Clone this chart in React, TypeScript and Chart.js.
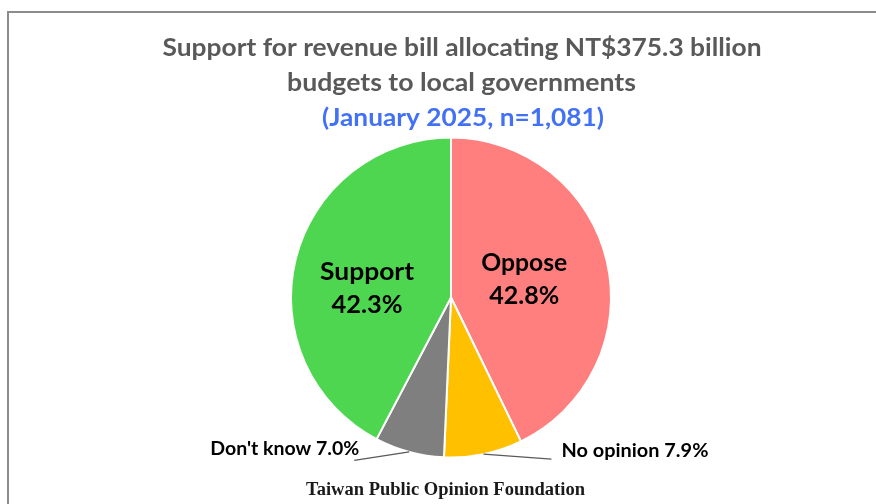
import React, { useEffect, useRef } from "react";
import { Chart, registerables } from "chart.js";

Chart.register(...registerables);

// ---------- data ----------
const categories = ["Oppose", "No opinion", "Don't know", "Support"];
const values = [42.8, 7.9, 7.0, 42.3];
const valueLabels = ["42.8%", "7.9%", "7.0%", "42.3%"];
const sliceColors = ["#FF7F7F", "#FFC000", "#7F7F7F", "#4FD650"];
const titleLines = [
  "Support for revenue bill allocating NT$375.3 billion",
  "budgets to local governments",
];
const subtitleText = "(January 2025, n=1,081)";
const sourceText = "Taiwan Public Opinion Foundation";

// ---------- styles ----------
const SANS = "Lato, 'Open Sans', sans-serif";
const SERIF = "'Liberation Serif', 'DejaVu Serif', serif";

type LabelStyle =
  | { kind: "inside"; fx: number; l1: number; l2: number; w1: number; w2: number }
  | { kind: "outside"; dx: number; dy: number; tx: number; ty: number; w: number; align: CanvasTextAlign };

const labelStyles: LabelStyle[] = [
  { kind: "inside", fx: 0.458, l1: -26.5, l2: 6.5, w1: 86, w2: 70 },
  { kind: "outside", dx: 68, dy: 5, tx: 10, ty: -2, w: 147, align: "left" },
  { kind: "outside", dx: -55, dy: 8.5, tx: 5, ty: -5, w: 149, align: "right" },
  { kind: "inside", fx: -0.525, l1: -17.5, l2: 15.5, w1: 94, w2: 71 },
];

function fitText(
  ctx: CanvasRenderingContext2D,
  text: string,
  x: number,
  y: number,
  width: number,
  align: CanvasTextAlign
) {
  const w = ctx.measureText(text).width;
  const s = w > 0 ? width / w : 1;
  ctx.save();
  ctx.translate(x, y);
  ctx.scale(s, 1);
  ctx.textAlign = align;
  ctx.textBaseline = "alphabetic";
  ctx.fillText(text, 0, 0);
  ctx.restore();
}

const textPlugin = {
  id: "customText",
  afterDraw(chart: any) {
    const ctx: CanvasRenderingContext2D = chart.ctx;
    ctx.save();
    // title
    ctx.fillStyle = "#595959";
    ctx.font = `bold 25px ${SANS}`;
    fitText(ctx, titleLines[0], 462, 56, 599, "center");
    fitText(ctx, titleLines[1], 461.5, 91, 349, "center");
    ctx.fillStyle = "#4271F5";
    fitText(ctx, subtitleText, 463, 126, 282, "center");

    // slice labels
    const meta = chart.getDatasetMeta(0);
    meta.data.forEach((arc: any, i: number) => {
      const p = arc.getProps(["x", "y", "outerRadius", "startAngle", "endAngle"], true);
      const st = labelStyles[i];
      ctx.fillStyle = "#000000";
      if (st.kind === "inside") {
        ctx.font = `bold 24px ${SANS}`;
        const cx = p.x + st.fx * p.outerRadius;
        fitText(ctx, categories[i], cx, p.y + st.l1, st.w1, "center");
        fitText(ctx, valueLabels[i], cx, p.y + st.l2, st.w2, "center");
      } else {
        const mid = (p.startAngle + p.endAngle) / 2;
        const sx = p.x + Math.cos(mid) * p.outerRadius;
        const sy = p.y + Math.sin(mid) * p.outerRadius;
        const ex = sx + st.dx;
        const ey = sy + st.dy;
        ctx.strokeStyle = "#595959";
        ctx.lineWidth = 1.2;
        ctx.beginPath();
        ctx.moveTo(sx, sy);
        ctx.lineTo(ex, ey);
        ctx.stroke();
        ctx.font = `bold 18px ${SANS}`;
        fitText(ctx, `${categories[i]} ${valueLabels[i]}`, ex + st.tx, ey + st.ty, st.w, st.align);
      }
    });

    // source
    ctx.fillStyle = "#1a1a1a";
    ctx.font = `bold 18px ${SERIF}`;
    fitText(ctx, sourceText, 445.5, 495, 279, "center");
    ctx.restore();
  },
};

export default function App() {
  const ref = useRef<HTMLCanvasElement | null>(null);

  useEffect(() => {
    if (!ref.current) return;
    const chart = new Chart(ref.current, {
      type: "pie",
      data: {
        labels: categories,
        datasets: [
          {
            data: values,
            backgroundColor: sliceColors,
            borderColor: "#ffffff",
            borderWidth: 2,
          },
        ],
      },
      options: {
        responsive: false,
        maintainAspectRatio: false,
        animation: false,
        devicePixelRatio: 1,
        layout: { padding: { left: 290, right: 264, top: 136.5, bottom: 45.5 } },
        plugins: {
          legend: { display: false },
          title: { display: false },
          tooltip: { enabled: false },
        },
      },
      plugins: [textPlugin],
    });
    return () => chart.destroy();
  }, []);

  return (
    <div
      style={{
        position: "absolute",
        left: 0,
        top: 0,
        width: 876,
        height: 504,
        overflow: "hidden",
        background: "#ffffff",
      }}
    >
      <div
        style={{
          position: "absolute",
          left: 7,
          top: 11,
          width: 1000,
          height: 1000,
          borderLeft: "2px solid #8c8c8c",
          borderTop: "2px solid #8c8c8c",
        }}
      />
      <canvas
        ref={ref}
        width={876}
        height={504}
        style={{ position: "absolute", left: 0, top: 0, width: 876, height: 504 }}
      />
    </div>
  );
}
